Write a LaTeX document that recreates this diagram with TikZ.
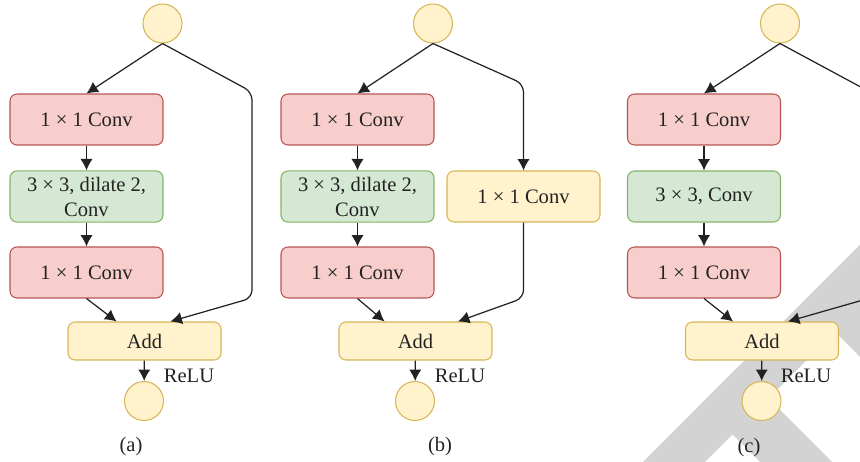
\documentclass[tikz,border=0pt]{standalone}
\usepackage{fontspec}
\setmainfont{Liberation Serif}
\usepackage{tikz}
\usetikzlibrary{arrows.meta}
\definecolor{redfill}{HTML}{F8CECC}
\definecolor{redline}{HTML}{B85450}
\definecolor{greenfill}{HTML}{D5E8D4}
\definecolor{greenline}{HTML}{82B366}
\definecolor{yellowfill}{HTML}{FFF2CC}
\definecolor{yellowline}{HTML}{D6B656}
\definecolor{markgray}{HTML}{D3D3D3}
\definecolor{textdark}{HTML}{222222}

\begin{document}
\begin{tikzpicture}[x=0.02cm,y=-0.02cm,
		font=\fontsize{11.7}{14.2}\selectfont, text=textdark,
		box/.style={rounded corners=0.14cm, minimum width=3.06cm, minimum height=1.02cm, align=center, line width=0.6pt},
		convred/.style={box, draw=redline, fill=redfill},
		convgreen/.style={box, draw=greenline, fill=greenfill},
		convyellow/.style={box, draw=yellowline, fill=yellowfill},
		addbox/.style={box, draw=yellowline, fill=yellowfill, minimum height=0.76cm},
		io/.style={circle, draw=yellowline, fill=yellowfill, minimum size=0.78cm, inner sep=0pt, line width=0.6pt},
		arr/.style={->,>={Latex[length=6.5pt,width=7pt]}, line width=0.7pt, draw=textdark}]
		\useasboundingbox (0,0) rectangle (860,462);
		\clip (0,0) rectangle (860,462);

		\fill[markgray] (643,462) -- (860,245) -- (860,307) -- (705,462) -- cycle;
		\fill[markgray] (701.5,403.5) -- (737.5,367.5) -- (832,462) -- (760,462) -- cycle;
		\fill[markgray] (804,301) -- (860,245) -- (860,357) -- cycle;

		% (a)
		\node[io] at (162.5,23.5) (in_a) {};
		\node[convred] at (86.5,119.5) (c1_a) {1 × 1 Conv};
		\node[convgreen] at (86.5,196.5) (c2_a) {3 × 3, dilate 2,\\Conv};
		\node[convred] at (86.5,272.5) (c3_a) {1 × 1 Conv};
		\node[addbox] at (144.5,341) (add_a) {Add};
		\node[io] at (144,401) (out_a) {};
		\node at (189,376) (relu_a) {ReLU};
		\node at (131,447) (cap_a) {(a)};
		\coordinate (s1_a) at (252,92);
		\coordinate (s2_a) at (252,298);

		\draw[arr] (in_a.south) -- (c1_a.north);
		\draw[arr] (c1_a) -- (c2_a);
		\draw[arr] (c2_a) -- (c3_a);
		\draw[arr] (c3_a.south) -- ([xshift=-0.56cm]add_a.north);
		\draw[arr, rounded corners=0.16cm] (in_a.south) -- (s1_a) -- (s2_a) -- ([xshift=0.52cm]add_a.north);
		\draw[arr] (add_a) -- (out_a);

		% (b)
		\node[io] at (433,23.5) (in_b) {};
		\node[convred] at (357.5,119.5) (c1_b) {1 × 1 Conv};
		\node[convgreen] at (357.5,196.5) (c2_b) {3 × 3, dilate 2,\\Conv};
		\node[convred] at (357.5,272.5) (c3_b) {1 × 1 Conv};
		\node[convyellow] at (523.5,196.5) (cy_b) {1 × 1 Conv};
		\node[addbox] at (415.5,341) (add_b) {Add};
		\node[io] at (415,401) (out_b) {};
		\node at (460,376) (relu_b) {ReLU};
		\node at (440,447) (cap_b) {(b)};
		\coordinate (s1_b) at (523.5,84);
		\coordinate (s2_b) at (523.5,298);

		\draw[arr] (in_b.south) -- (c1_b.north);
		\draw[arr] (c1_b) -- (c2_b);
		\draw[arr] (c2_b) -- (c3_b);
		\draw[arr] (c3_b.south) -- ([xshift=-0.62cm]add_b.north);
		\draw[arr, rounded corners=0.16cm] (in_b.south) -- (s1_b) -- (cy_b.north);
		\draw[arr, rounded corners=0.16cm] (cy_b.south) -- (s2_b) -- ([xshift=0.85cm]add_b.north);
		\draw[arr] (add_b) -- (out_b);

		% (c)
		\node[io] at (780,23.5) (in_c) {};
		\node[convred] at (704,119.5) (c1_c) {1 × 1 Conv};
		\node[convgreen] at (704,196.5) (c2_c) {3 × 3, Conv};
		\node[convred] at (704,272.5) (c3_c) {1 × 1 Conv};
		\node[addbox] at (762,341) (add_c) {Add};
		\node[io] at (761.5,401) (out_c) {};
		\node at (806,376) (relu_c) {ReLU};
		\node at (749,448) (cap_c) {(c)};
		\coordinate (s1_c) at (870,92);
		\coordinate (s2_c) at (870,298);

		\draw[arr] (in_c.south) -- (c1_c.north);
		\draw[arr] (c1_c) -- (c2_c);
		\draw[arr] (c2_c) -- (c3_c);
		\draw[arr] (c3_c.south) -- ([xshift=-0.58cm]add_c.north);
		\draw[arr, rounded corners=0.16cm] (in_c.south) -- (s1_c) -- (s2_c) -- ([xshift=0.52cm]add_c.north);
		\draw[arr] (add_c) -- (out_c);

	\end{tikzpicture}
\end{document}
